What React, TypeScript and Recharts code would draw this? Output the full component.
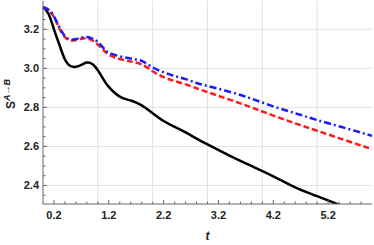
import { LineChart, Line, XAxis, YAxis, ReferenceLine } from "recharts"

const tValues = [0, 0.1, 0.2, 0.3, 0.4, 0.5, 0.6, 0.7, 0.8, 0.9, 1.0, 1.1, 1.2, 1.4, 1.6, 1.8, 2.0, 2.2, 2.4, 2.6, 2.8, 3.0, 3.4, 3.8, 4.2, 4.6, 5.0, 5.5, 6.0]
const solidSeries = [3.313, 3.28, 3.2, 3.12, 3.045, 3.012, 3.008, 3.018, 3.03, 3.022, 2.99, 2.945, 2.905, 2.855, 2.835, 2.81, 2.77, 2.73, 2.7, 2.672, 2.64, 2.61, 2.553, 2.5, 2.447, 2.39, 2.345, 2.29, 2.235]
const dashedSeries = [3.313, 3.3, 3.262, 3.205, 3.16, 3.143, 3.145, 3.152, 3.153, 3.143, 3.122, 3.095, 3.07, 3.048, 3.035, 3.02, 2.985, 2.955, 2.935, 2.918, 2.898, 2.878, 2.84, 2.8, 2.758, 2.718, 2.68, 2.633, 2.586]
const dotDashSeries = [3.313, 3.3, 3.265, 3.21, 3.165, 3.148, 3.15, 3.158, 3.16, 3.152, 3.135, 3.105, 3.08, 3.062, 3.05, 3.038, 3.005, 2.98, 2.96, 2.945, 2.925, 2.91, 2.88, 2.845, 2.805, 2.77, 2.735, 2.695, 2.654]

const xMajor = [0.2, 1.2, 2.2, 3.2, 4.2, 5.2]
const xTicks = [0.2, 0.4, 0.6, 0.8, 1.0, 1.2, 1.4, 1.6, 1.8, 2.0, 2.2, 2.4, 2.6, 2.8, 3.0, 3.2, 3.4, 3.6, 3.8, 4.0, 4.2, 4.4, 4.6, 4.8, 5.0, 5.2, 5.4, 5.6, 5.8]
const xGrid = [1, 2, 3, 4, 5]
const yMajor = [2.4, 2.6, 2.8, 3.0, 3.2]
const yTicks = [2.35, 2.4, 2.45, 2.5, 2.55, 2.6, 2.65, 2.7, 2.75, 2.8, 2.85, 2.9, 2.95, 3.0, 3.05, 3.1, 3.15, 3.2, 3.25, 3.3]

const data = tValues.map((t, i) => ({
  t,
  solid: solidSeries[i],
  dashed: dashedSeries[i],
  dotdash: dotDashSeries[i],
}))

const frame = "#666"
const font = "'Liberation Sans', Arial, sans-serif"
const yDomain = [2.305, 3.345]
const isMajor = (v: number, list: number[]) => list.some((m) => Math.abs(m - v) < 1e-6)

const BottomTick = (props: any) => {
  const { x, y, payload } = props
  const major = isMajor(payload.value, xMajor)
  return (
    <g>
      <line x1={x} x2={x} y1={y} y2={y - (major ? 4 : 2.5)} stroke={frame} />
      {major && (
        <text x={x} y={y + 15} textAnchor="middle" fontSize={11} fontWeight="bold" fill="#222" fontFamily={font}>
          {payload.value.toFixed(1)}
        </text>
      )}
    </g>
  )
}

const TopTick = (props: any) => {
  const { x, y, payload } = props
  const major = isMajor(payload.value, xMajor)
  return <line x1={x} x2={x} y1={y} y2={y + (major ? 4 : 2.5)} stroke={frame} />
}

const LeftTick = (props: any) => {
  const { x, y, payload } = props
  const major = isMajor(payload.value, yMajor)
  return (
    <g>
      <line x1={x} x2={x + (major ? 4 : 2.5)} y1={y} y2={y} stroke={frame} />
      {major && (
        <text x={x - 4} y={y + 4} textAnchor="end" fontSize={11} fontWeight="bold" fill="#222" fontFamily={font}>
          {payload.value.toFixed(1)}
        </text>
      )}
    </g>
  )
}

const RightTick = (props: any) => {
  const { x, y, payload } = props
  const major = isMajor(payload.value, yMajor)
  return <line x1={x} x2={x - (major ? 4 : 2.5)} y1={y} y2={y} stroke={frame} />
}

export default function App() {
  return (
    <div style={{ position: "fixed", left: 0, top: 0, background: "#fff" }}>
      <LineChart width={374} height={245} data={data} margin={{ top: 1, right: 2, bottom: 0, left: 0 }}>
        {xGrid.map((g) => (
          <ReferenceLine key={"gx" + g} xAxisId="b" yAxisId="l" x={g} stroke="#e2e2e2" strokeWidth={1} />
        ))}
        {yMajor.map((g) => (
          <ReferenceLine key={"gy" + g} xAxisId="b" yAxisId="l" y={g} stroke="#e2e2e2" strokeWidth={1} />
        ))}
        <XAxis
          xAxisId="b"
          dataKey="t"
          type="number"
          domain={[0, 6]}
          ticks={xTicks}
          interval={0}
          height={41}
          tickSize={0}
          tickMargin={0}
          tickLine={false}
          stroke={frame}
          tick={BottomTick}
          label={{ value: "t", position: "insideBottom", offset: 5, fontSize: 12, fontWeight: "bold", fontStyle: "italic", fill: "#222", fontFamily: font }}
        />
        <XAxis
          xAxisId="t"
          dataKey="t"
          type="number"
          orientation="top"
          domain={[0, 6]}
          ticks={xTicks}
          interval={0}
          height={0}
          tickSize={0}
          tickMargin={0}
          tickLine={false}
          stroke={frame}
          tick={TopTick}
        />
        <YAxis
          yAxisId="l"
          type="number"
          domain={yDomain}
          allowDataOverflow
          ticks={yTicks}
          interval={0}
          width={43}
          tickSize={0}
          tickMargin={0}
          tickLine={false}
          stroke={frame}
          tick={LeftTick}
        />
        <YAxis
          yAxisId="r"
          orientation="right"
          type="number"
          domain={yDomain}
          allowDataOverflow
          ticks={yTicks}
          interval={0}
          width={0}
          tickSize={0}
          tickMargin={0}
          tickLine={false}
          stroke={frame}
          tick={RightTick}
        />
        <Line xAxisId="b" yAxisId="l" type="natural" dataKey="solid" stroke="#000" strokeWidth={2.5} dot={false} isAnimationActive={false} />
        <Line xAxisId="b" yAxisId="l" type="natural" dataKey="dashed" stroke="#ff1a1a" strokeWidth={2.5} strokeDasharray="6 3" dot={false} isAnimationActive={false} />
        <Line xAxisId="b" yAxisId="l" type="natural" dataKey="dotdash" stroke="#1a1aff" strokeWidth={2.5} strokeDasharray="7 3 2 3" dot={false} isAnimationActive={false} />
        <text transform="translate(14.5,109) rotate(-90)" fontFamily={font} fill="#222" fontWeight="bold">
          <tspan fontSize={12}>S</tspan>
          <tspan fontSize={9} fontStyle="italic" dy={-5}>A→B</tspan>
        </text>
      </LineChart>
    </div>
  )
}
